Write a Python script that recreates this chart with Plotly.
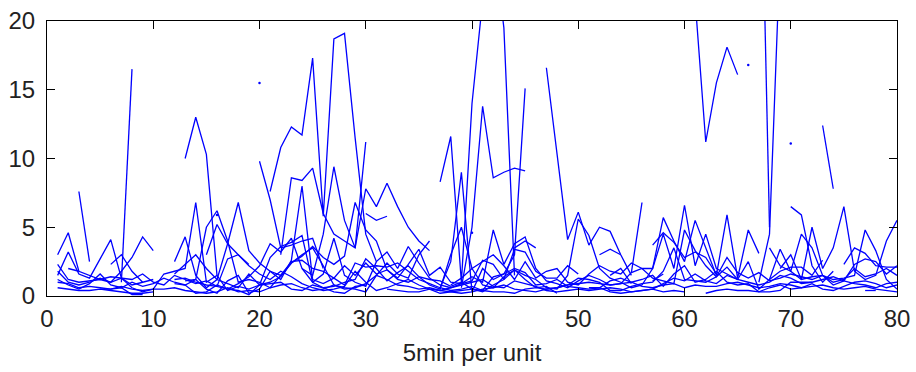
import plotly.graph_objects as go

N = None
x_idx = list(range(1, 81))

# High, sparse series (gaps = None)
H1 = [N, N, 7.6, 2.5, N, N, 1.0, 16.5, N, N,
      N, N, 10.0, 13.0, 10.3, 1.5, N, N, N, 9.8,
      7.0, 3.5, N, N, N, N, N, N, N, N,
      N, N, N, N, N, N, 8.3, 11.6, 1.0, 14.0,
      21.5, 26.0, 19.5, 1.5, N, N, 16.6, 10.2, 4.1, 6.1,
      3.7, 5.0, 4.7, 3.0, 1.5, N, N, N, N, N,
      21.5, 11.2, 15.5, 18.1, 16.1, N, 40.0, 5.0, N, N,
      N, N, 12.4, 7.8, N, N, N, N, N, N]

H2 = [N, N, N, N, N, N, N, N, N, N,
      N, N, N, N, N, N, N, N, N, N,
      7.6, 10.8, 12.3, 11.7, 17.3, 5.8, 18.7, 19.1, 11.5, 4.5,
      2.5, N, N, N, N, N, N, N, 0.6, 5.0,
      13.8, 8.6, 9.0, 9.3, 9.1, N, N, N, N, N,
      N, N, N, N, N, N, N, N, N, N,
      N, N, N, N, N, N, 1.0, 4.5, 25.0, N,
      N, N, N, N, N, N, N, N, N, N]

H3 = [N, N, N, N, N, N, N, N, N, N,
      N, N, N, N, N, N, N, N, N, N,
      N, 3.0, 8.6, 8.4, 9.3, 6.0, 4.5, 4.0, 3.5, 11.2,
      N, N, N, N, N, N, 0.6, 2.5, 9.0, 0.3,
      2.0, 1.2, 1.6, 3.0, 15.1, N, N, N, N, N,
      N, N, N, N, N, N, N, N, N, N,
      N, N, N, N, N, N, N, N, N, 6.5,
      5.9, 2.2, 1.0, 1.8, N, N, N, N, N, N]

H4 = [N, N, N, N, N, N, N, N, N, N,
      N, N, N, N, N, N, N, N, N, N,
      N, N, N, 2.0, 1.5, 4.5, 9.4, 5.5, 3.5, 7.8,
      6.5, 8.2, 6.5, 5.0, 4.0, 3.3, N, N, N, N,
      N, N, N, N, N, N, N, N, N, N,
      N, N, N, N, 1.7, 6.8, N, N, N, N,
      N, N, N, N, N, N, N, N, N, N,
      N, N, N, N, N, N, N, N, N, N]

# Low-lying series
L1 = [3.0, 4.6, 1.8, 1.5, 1.2, 1.4, 1.3, 1.2, 1.6, 1.0,
      0.8, 1.5, 1.2, 0.9, 1.1, 0.7, 0.5, 0.9, 1.4, 2.2,
      3.8, 3.2, 4.2, 2.0, 1.0, 1.6, 4.2, 1.5, 1.0, 0.7,
      2.5, 3.2, 2.0, 3.6, 2.4, 1.3, 0.8, 0.6, 0.9, 1.4,
      1.0, 4.8, 2.3, 3.8, 4.3, 2.0, 1.1, 0.9, 0.6, 1.1,
      1.5, 1.2, 0.8, 0.9, 1.7, 2.0, 2.0, 4.5, 2.0, 6.6,
      2.2, 4.5, 2.0, 1.6, 1.2, 2.5, 0.5, 1.2, 3.4, 1.8,
      1.2, 1.4, 1.5, 1.2, 1.3, 1.5, 4.8, 3.3, 1.2, 0.5]

L2 = [1.5, 3.2, 1.6, 1.3, 2.7, 4.1, 1.3, 0.8, 1.0, 1.2,
      N, 2.5, 4.3, 1.5, 0.6, 1.2, 3.8, 6.8, 3.3, 2.4,
      1.8, 1.2, 2.6, 8.0, 1.2, 0.9, 1.3, 2.2, 1.5, 2.4,
      1.6, 1.9, 1.2, 1.0, 1.4, 0.8, 0.5, 3.0, 5.0, 2.0,
      0.8, 0.6, 1.4, 1.9, 1.5, 1.2, 0.6, 0.5, 1.5, 5.6,
      4.4, 2.0, 1.3, 1.0, 0.6, 0.8, 2.0, 5.7, 4.0, 2.5,
      5.5, 3.5, 1.5, 5.9, 1.3, 4.8, 3.1, N, 2.0, 3.0,
      1.2, 5.0, 2.0, 3.5, 6.5, 1.8, 1.2, 1.5, 4.0, 5.5]

L3 = [2.3, 1.2, 1.0, 1.1, 1.2, 1.0, 1.3, 0.6, 0.3, 0.5,
      1.6, 1.8, 2.0, 6.8, 1.0, 1.5, 0.4, 0.7, 0.5, 0.8,
      2.8, 3.6, 3.9, 4.4, 1.0, 0.6, 0.7, 1.0, 1.2, 2.7,
      2.0, 1.1, 1.7, 2.2, 1.4, 1.2, 1.1, 0.7, 1.0, 0.5,
      0.3, 0.8, 1.2, 1.9, 1.2, 0.6, 0.5, 0.6, 0.8, 1.3,
      1.2, 1.0, 0.4, 0.4, 0.7, 0.9, 1.0, 1.8, 3.5, 1.2,
      1.1, 1.0, 1.4, 2.8, 1.7, 1.3, 1.7, 1.1, 1.3, 1.6,
      1.4, 1.2, 1.5, 1.0, 1.2, 2.0, 1.4, 1.6, 2.0, 1.5]

L4 = [1.8, 1.0, 0.8, 1.0, 1.3, 1.0, 1.8, 2.8, 4.3, 3.3,
      N, N, 1.1, 1.2, 5.0, 6.2, 4.0, 1.0, 1.2, 1.0,
      0.6, 1.5, 2.4, 3.0, 3.5, 2.2, 0.8, 0.5, 0.6, 0.9,
      1.5, 2.4, 1.6, 1.3, 3.0, 4.0, N, 0.8, 1.3, 2.0,
      2.5, 3.0, 2.2, 1.2, 2.5, 1.3, 1.8, 2.0, 1.0, 0.8,
      1.6, 2.2, 1.8, 1.6, 2.4, 2.0, 1.3, 1.1, 0.9, 4.8,
      3.3, 2.2, 1.4, 2.1, 1.2, N, N, 3.5, 2.2, 1.8,
      4.5, 3.5, 1.5, 0.8, 1.1, 2.3, 2.7, 2.5, 1.6, 2.2]

L5 = [1.0, 0.9, 0.6, 0.7, 0.6, 0.5, 0.7, 0.5, 0.4, 0.5,
      0.5, 0.6, 0.4, 0.3, 0.2, 0.3, 0.6, 0.3, 0.4, 0.3,
      0.6, 0.8, 0.9, 0.6, 0.4, 0.5, 0.8, 0.6, 0.5, 0.3,
      1.5, 1.2, 0.8, 0.7, 0.5, 0.6, 0.4, 0.3, 0.2, 0.3,
      0.5, 0.6, 0.8, 0.5, 0.4, 0.3, 0.5, 0.6, 0.8, 0.9,
      1.0, 0.9, 0.8, 0.9, 1.0, 0.7, 0.6, 0.8, 0.9, 0.6,
      0.8, 0.7, 0.7, 0.9, 1.0, 0.8, 0.6, 0.7, 0.9, 0.8,
      0.6, 0.7, 0.8, 0.6, 0.5, 0.6, 0.7, 0.5, 0.4, 0.3]

L6 = [0.6, 0.5, 0.4, 0.4, 0.5, 0.4, 0.3, 0.2, 0.2, 0.3,
      N, 1.2, 1.3, 1.0, 0.8, 0.7, 2.7, 3.0, 2.2, 1.6,
      1.2, 1.8, 1.4, 0.9, 0.6, 0.4, 0.5, 0.7, 1.8, 1.0,
      0.4, 0.6, 0.9, 1.2, 0.8, 0.5, 0.4, 0.6, 0.8, 1.0,
      1.2, 0.7, 0.6, 1.1, 0.9, 0.7, 0.4, 0.3, 0.4, 0.5,
      0.4, 0.5, 0.6, 0.5, 0.3, 0.4, 0.5, 0.9, 1.3, 1.1,
      1.6, 1.1, 0.9, 1.5, 1.2, 1.0, 0.8, 1.0, 1.5, 1.3,
      0.9, 1.0, 1.2, 1.4, 1.1, 0.9, 0.8, 0.6, 0.9, 1.0]

L7 = [N, 2.0, 1.8, N, N, 2.3, 3.0, 1.8, 1.0, N,
      N, 1.6, 2.3, 3.0, 2.0, 1.2, 0.9, 0.6, 1.6, 0.8,
      1.0, 1.4, 2.4, 2.9, 3.6, 2.8, 2.3, 2.9, 6.8, 4.8,
      4.0, 1.9, 1.3, 2.3, 3.4, 1.5, 2.1, 1.0, 0.9, 1.1,
      2.6, 2.3, 1.2, 3.4, 3.2, 1.8, 1.3, 1.3, 2.2, 1.6,
      N, N, 1.5, 2.0, 0.9, N, 1.1, 1.6, N, N,
      3.2, 2.8, 1.6, N, N, N, N, 1.2, 1.8, 2.1,
      2.1, 1.5, 2.6, N, 2.3, 3.5, 3.1, 2.2, 2.1, 2.1]

L8 = [1.2, 0.8, 0.5, 0.9, 1.6, 0.8, 0.6, 1.0, 0.7, 0.9,
      1.3, 1.0, 0.8, 1.2, 0.5, 0.2, 1.1, 1.5, 0.2, 0.5,
      1.8, 1.5, 2.5, 2.6, 2.0, 1.8, 1.3, 0.8, 2.4, 2.1,
      2.2, 2.1, 2.4, 1.8, 1.2, 0.9, 0.6, 0.4, 0.5, 0.7,
      0.4, 1.4, 1.6, 2.0, 1.7, 0.8, 0.9, 1.2, 0.7, 0.6,
      0.5, 0.6, 1.1, 1.3, 1.0, 1.2, 1.5, 0.7, 1.6, 2.2,
      1.0, 1.2, 1.8, 1.0, 0.8, 0.9, 0.3, 0.6, 0.8, 0.5,
      0.6, 0.9, 0.5, 0.4, 0.7, 1.0, 1.1, 0.9, 0.6, 0.8]

L9 = [N, N, N, N, N, N, N, N, N, N,
      N, N, N, N, 3.0, 5.2, 3.8, 3.0, 2.3, N,
      N, 3.5, 3.7, 4.0, 4.2, 2.0, N, N, N, 6.0,
      5.5, 5.8, N, N, N, N, N, N, N, N,
      N, N, N, 3.5, 4.0, 3.5, N, N, N, N,
      N, 3.0, 3.4, 3.0, N, N, 3.7, 4.6, 3.9, 2.8,
      3.2, N, N, N, N, 2.3, N, N, N, N,
      N, N, N, 2.4, N, N, N, N, N, N]

L10 = [N, 0.6, N, N, 0.5, 0.5, 0.6, 0.1, 0.1, N,
       N, 0.9, 0.8, 0.2, 0.3, 0.8, 0.5, 0.4, 0.1, 0.8,
       0.9, 1.0, 0.5, 0.4, 0.8, 0.6, 0.3, 0.2, 0.7, 0.8,
       N, 0.5, 0.4, 0.3, 0.3, 0.5, 0.2, 0.3, 0.4, 0.5,
       0.4, 0.3, 0.3, 0.2, 0.5, 0.6, 0.7, 0.2, N, N,
       0.6, 0.6, 0.3, 0.2, 0.3, 0.4, 0.5, 0.3, 0.4, 0.3,
       N, 0.2, 0.4, 0.5, 0.4, 0.4, 0.3, 0.3, 0.4, 1.0,
       1.0, 1.0, N, N, N, N, 0.4, 0.4, N, N]

# Isolated single samples
dots_x = [20, 66, 70, 16, 40]
dots_y = [15.5, 16.8, 11.1, 5.9, 4.6]

x_ticks = [0, 10, 20, 30, 40, 50, 60, 70, 80]
y_ticks = [0, 5, 10, 15, 20]

series = [H1, H2, H3, H4, L1, L2, L3, L4, L5, L6, L7, L8, L9, L10]
BLUE = "#0000ff"
FONT = dict(family="Liberation Sans, Arial", size=24, color="#222")

fig = go.Figure()
for s in series:
    fig.add_trace(go.Scatter(x=x_idx, y=s, mode="lines",
                             line=dict(color=BLUE, width=1.3),
                             connectgaps=False, showlegend=False))
fig.add_trace(go.Scatter(x=dots_x, y=dots_y, mode="markers",
                         marker=dict(color=BLUE, size=2.5),
                         showlegend=False))

axis_common = dict(showgrid=False, zeroline=False, showline=True,
                   linecolor="black", linewidth=1, mirror="ticks",
                   ticks="inside", ticklen=8, tickcolor="black",
                   tickfont=FONT, automargin=False)

fig.update_xaxes(range=[0, 80], tickvals=x_ticks, ticklabelstandoff=1,
                 title=dict(text="5min per unit", standoff=13, font=FONT),
                 **axis_common)
fig.update_yaxes(range=[0, 20], tickvals=y_ticks, ticklabelstandoff=6, **axis_common)

fig.update_layout(width=916, height=372,
                  margin=dict(l=47, r=19, t=21, b=76),
                  plot_bgcolor="white", paper_bgcolor="white")

fig.write_html("out.html")
